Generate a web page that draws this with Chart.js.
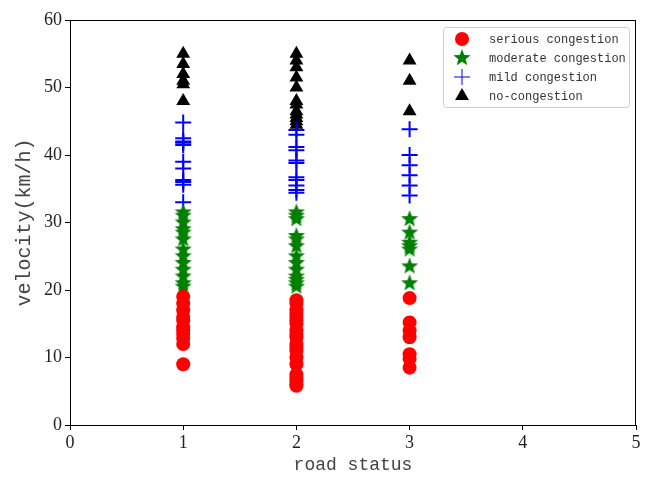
<!DOCTYPE html>
<html>
<head>
<meta charset="utf-8">
<script src="https://cdn.jsdelivr.net/npm/chart.js@4.4.1/dist/chart.umd.min.js"></script>
<style>
  html, body { margin: 0; padding: 0; background: #fff; }
  #wrap { width: 646px; height: 478px; }
</style>
</head>
<body>
<div id="wrap"><canvas id="scatterChart" width="646" height="478"></canvas></div>
<script>
// road status categories on the x axis
const statuses = [1, 2, 3];
const seriesNames = ['serious congestion', 'moderate congestion', 'mild congestion', 'no-congestion'];

// velocities (km/h) per road status 1, 2, 3
const seriousVel = [
    [19, 18, 17, 16, 15.5, 14.5, 14, 13.5, 12.8, 12, 9],
    [18.5, 18, 17, 16.5, 16, 15.5, 15, 14, 13.5, 13, 12, 11.5, 11, 10, 9, 7.5, 7, 6.5, 6, 5.8],
    [18.8, 15.2, 14, 13, 10.5, 9.8, 8.5]
];
const moderateVel = [
    [31.5, 31, 30, 29, 28.5, 27.5, 26, 25, 24, 23, 22, 21, 20.5],
    [31.5, 31, 30.5, 28, 27.5, 26.5, 25, 24, 23, 22, 21.5, 21, 20.5],
    [30.5, 28.5, 27, 26.5, 26, 23.5, 21]
];
const mildVel = [
    [44.8, 42.5, 42, 41.5, 41.8, 39, 38, 36.3, 36, 35.6, 33],
    [43.7, 43, 41.2, 40.7, 39.2, 38.8, 36.7, 36.3, 35.5, 34.8, 34.4],
    [43.8, 40, 38.5, 37, 35.5, 34]
];
const freeVel = [
    [55, 53.5, 52, 51, 50.5, 48],
    [55, 54, 53, 51.5, 50, 48, 47.5, 46.5, 46, 45.5, 45, 44.5],
    [54, 51, 46.5]
];

const xTicks = [0, 1, 2, 3, 4, 5];
const yTicks = [0, 10, 20, 30, 40, 50, 60];

function toPoints(vel) {
    const pts = [];
    statuses.forEach((s, i) => vel[i].forEach(v => pts.push({ x: s, y: v })));
    return pts;
}

// filled five-point star marker
function makeStar(color, r) {
    const c = document.createElement('canvas');
    c.width = r * 2 + 2;
    c.height = r * 2 + 2;
    const g = c.getContext('2d');
    const cx = c.width / 2, cy = c.height / 2;
    g.beginPath();
    for (let i = 0; i < 10; i++) {
        const rad = i % 2 === 0 ? r : r * 0.42;
        const a = -Math.PI / 2 + i * Math.PI / 5;
        const px = cx + Math.cos(a) * rad, py = cy + Math.sin(a) * rad;
        if (i === 0) g.moveTo(px, py); else g.lineTo(px, py);
    }
    g.closePath();
    g.fillStyle = color;
    g.fill();
    return c;
}
const starImg = makeStar('#008000', 9);

const monoFont = "'Liberation Mono', 'DejaVu Sans Mono', monospace";
const serifFont = "'Liberation Serif', 'DejaVu Serif', serif";

// frame on all four sides
const framePlugin = {
    id: 'frame',
    afterDraw(chart) {
        const { ctx, chartArea: a } = chart;
        ctx.save();
        ctx.strokeStyle = '#000';
        ctx.lineWidth = 1;
        ctx.strokeRect(a.left + 0.5, a.top + 0.5, a.right - a.left - 1, a.bottom - a.top);
        ctx.restore();
    }
};

// matplotlib-like legend box in the upper right corner
const legendBoxPlugin = {
    id: 'legendBox',
    afterDraw(chart) {
        const { ctx, chartArea: a } = chart;
        const w = 186, h = 80;
        const x0 = a.right - w - 7, y0 = a.top + 7;
        ctx.save();
        ctx.fillStyle = 'rgba(255,255,255,0.85)';
        ctx.strokeStyle = '#cccccc';
        ctx.lineWidth = 1;
        ctx.beginPath();
        ctx.roundRect(x0 + 0.5, y0 + 0.5, w, h, 3);
        ctx.fill();
        ctx.stroke();
        ctx.font = '12px ' + monoFont;
        ctx.textBaseline = 'middle';
        chart.data.datasets.forEach((ds, i) => {
            const cy = y0 + 12 + i * 19;
            ctx.fillStyle = ds.backgroundColor;
            ctx.strokeStyle = ds.borderColor;
            Chart.helpers.drawPoint(ctx, {
                pointStyle: ds.pointStyle,
                radius: ds.pointRadius,
                rotation: 0,
                borderWidth: ds.borderWidth
            }, x0 + 19, cy);
            ctx.fillStyle = '#333';
            ctx.fillText(ds.label, x0 + 46, cy + 1);
        });
        ctx.restore();
    }
};

const ctx = document.getElementById('scatterChart').getContext('2d');
new Chart(ctx, {
    type: 'scatter',
    data: {
        datasets: [
            {
                label: seriesNames[0],
                data: toPoints(seriousVel),
                pointStyle: 'circle',
                pointRadius: 7,
                backgroundColor: '#ff0000',
                borderColor: '#ff0000',
                borderWidth: 0
            },
            {
                label: seriesNames[1],
                data: toPoints(moderateVel),
                pointStyle: starImg,
                pointRadius: 9,
                backgroundColor: '#008000',
                borderColor: '#008000',
                borderWidth: 0
            },
            {
                label: seriesNames[2],
                data: toPoints(mildVel),
                pointStyle: 'cross',
                pointRadius: 8,
                backgroundColor: '#0000ff',
                borderColor: '#0000ff',
                borderWidth: 2
            },
            {
                label: seriesNames[3],
                data: toPoints(freeVel),
                pointStyle: 'triangle',
                pointRadius: 8,
                backgroundColor: '#000000',
                borderColor: '#000000',
                borderWidth: 0
            }
        ]
    },
    options: {
        responsive: false,
        animation: false,
        events: [],
        layout: { padding: { top: 20, right: 10, left: 0, bottom: 0 } },
        plugins: {
            legend: { display: false },
            tooltip: { enabled: false }
        },
        scales: {
            x: {
                type: 'linear',
                min: 0,
                max: 5,
                afterBuildTicks: s => { s.ticks = xTicks.map(v => ({ value: v })); },
                afterFit: s => { s.height = 53; },
                grid: { display: true, drawOnChartArea: false, drawTicks: true, tickLength: 5, color: '#000' },
                border: { display: true, color: '#000' },
                ticks: { color: '#222', padding: 2, font: { family: serifFont, size: 18 }, maxRotation: 0 },
                title: { display: true, text: 'road status', color: '#444', padding: { top: 0, bottom: 2 }, font: { family: monoFont, size: 18 } }
            },
            y: {
                type: 'linear',
                min: 0,
                max: 60,
                afterBuildTicks: s => { s.ticks = yTicks.map(v => ({ value: v })); },
                afterFit: s => { s.width = 70; },
                grid: { display: true, drawOnChartArea: false, drawTicks: true, tickLength: 5, color: '#000' },
                border: { display: true, color: '#000' },
                ticks: { color: '#222', padding: 3, font: { family: serifFont, size: 18 } },
                title: { display: true, text: 'velocity(km/h)', color: '#444', padding: { top: 13, bottom: 0 }, font: { family: monoFont, size: 20 } }
            }
        }
    },
    plugins: [framePlugin, legendBoxPlugin]
});
</script>
</body>
</html>
